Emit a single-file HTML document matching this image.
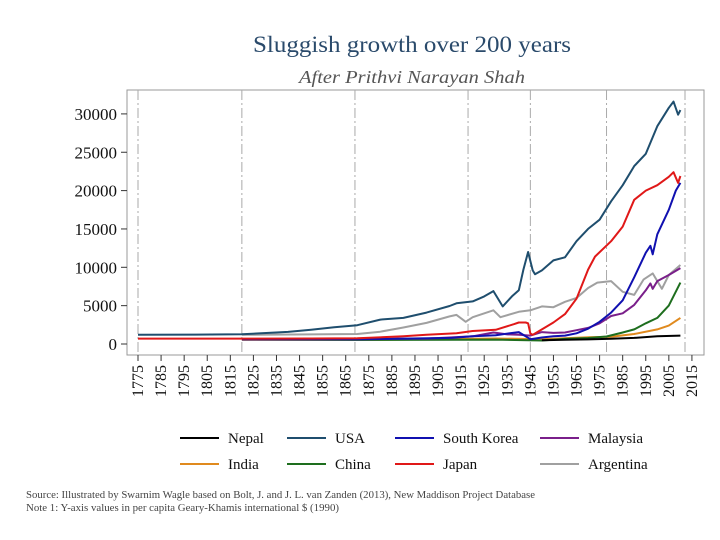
<!DOCTYPE html>
<html><head><meta charset="utf-8"><style>
body{margin:0;background:#fff;width:720px;height:540px;overflow:hidden;font-family:"Liberation Serif",serif}
svg{display:block}
</style></head><body>
<svg id="c" width="720" height="540">
<text x="412" y="52" text-anchor="middle" font-size="23" fill="#2a4a6b" font-family="Liberation Serif, serif" textLength="318" lengthAdjust="spacingAndGlyphs">Sluggish growth over 200 years</text>
<text x="412" y="83" text-anchor="middle" font-size="18" font-style="italic" fill="#555" textLength="226" lengthAdjust="spacingAndGlyphs">After Prithvi Narayan Shah</text>
<rect x="127" y="90" width="577" height="265" fill="none" stroke="#999" stroke-width="1"/>
<g id="grid"></g><g id="axes"></g><g id="series"></g><g id="legend"></g>
<text x="26" y="498" font-size="10.5" fill="#444" textLength="509" lengthAdjust="spacingAndGlyphs">Source: Illustrated by Swarnim Wagle based on Bolt, J. and J. L. van Zanden (2013), New Maddison Project Database</text>
<text x="26" y="511" font-size="10.5" fill="#444" textLength="313" lengthAdjust="spacingAndGlyphs">Note 1: Y-axis values in per capita Geary-Khamis international $ (1990)</text>
</svg>
<script>
const yTicks=[0,5000,10000,15000,20000,25000,30000];
const xTicks=[1775,1785,1795,1805,1815,1825,1835,1845,1855,1865,1875,1885,1895,1905,1915,1925,1935,1945,1955,1965,1975,1985,1995,2005,2015];
const eraLines=[1775,1820,1869,1918,1945,1978,2012];
const names=["Nepal","USA","South Korea","Malaysia","India","China","Japan","Argentina"];
const colors=["#000000","#1f4e6e","#1010b0","#7a1f8a","#e08a1e","#1e6e1e","#e01818","#a0a0a0"];
const nepalYears=[1950,1960,1970,1980,1990,2000,2010];
const nepalVals=[500,560,600,680,800,1000,1100];
const usaYears=[1775,1800,1820,1840,1850,1860,1870,1880,1890,1900,1910,1913,1920,1925,1929,1933,1937,1940,1942,1944,1946,1947,1950,1955,1960,1965,1970,1975,1980,1985,1990,1995,2000,2005,2007,2009,2010];
const usaVals=[1200,1220,1260,1580,1850,2180,2450,3180,3400,4100,4950,5300,5550,6200,6900,4900,6200,7000,9700,12000,9600,9100,9600,10900,11300,13400,15000,16200,18600,20700,23200,24800,28400,30800,31600,29900,30500];
const koreaYears=[1820,1870,1911,1920,1930,1940,1945,1950,1955,1960,1965,1970,1975,1980,1985,1990,1995,1997,1998,2000,2005,2008,2010];
const koreaVals=[600,600,800,1000,1150,1550,620,850,1000,1100,1400,2000,2900,4100,5700,8700,11900,12800,11700,14300,17500,20000,21000];
const malaysiaYears=[1820,1870,1900,1913,1920,1929,1935,1940,1945,1950,1955,1960,1965,1970,1975,1980,1985,1990,1995,1997,1998,2000,2005,2010];
const malaysiaVals=[600,660,700,900,1000,1500,1250,1200,1100,1550,1450,1500,1800,2100,2700,3650,4000,5100,7000,7900,7200,8200,9000,9900];
const indiaYears=[1820,1870,1900,1930,1950,1960,1970,1980,1990,2000,2005,2010];
const indiaVals=[530,530,600,720,620,750,870,940,1300,1900,2400,3400];
const chinaYears=[1820,1870,1913,1930,1950,1960,1970,1978,1985,1990,1995,2000,2005,2010];
const chinaVals=[600,530,550,570,450,660,780,980,1500,1900,2700,3400,5000,8000];
const japanYears=[1775,1820,1850,1870,1890,1900,1913,1920,1930,1938,1940,1943,1944,1945,1946,1950,1955,1960,1965,1970,1973,1980,1985,1990,1995,2000,2005,2007,2009,2010];
const japanVals=[700,700,720,740,1000,1200,1400,1700,1850,2600,2800,2800,2700,1350,1200,1900,2800,3900,5900,9700,11400,13400,15300,18800,20000,20700,21800,22400,21000,21900];
const argYears=[1820,1850,1870,1880,1890,1900,1910,1913,1917,1920,1929,1932,1940,1945,1950,1955,1960,1965,1970,1974,1980,1985,1990,1994,1998,2002,2005,2010];
const argVals=[1200,1250,1300,1600,2150,2750,3600,3800,2900,3500,4400,3500,4200,4400,4900,4800,5500,6000,7300,8000,8200,6800,6400,8400,9200,7200,9000,10300];
const allYears=[nepalYears,usaYears,koreaYears,malaysiaYears,indiaYears,chinaYears,japanYears,argYears];
const allVals=[nepalVals,usaVals,koreaVals,malaysiaVals,indiaVals,chinaVals,japanVals,argVals];
const drawOrder=[7,4,5,3,2,6,1,0];
const X=yr=>138+(yr-1775)*2.308;
const Y=v=>344-v*0.00767;
const NS="http://www.w3.org/2000/svg";
function mk(tag,attrs,parent){const e=document.createElementNS(NS,tag);for(const k in attrs)e.setAttribute(k,attrs[k]);parent.appendChild(e);return e;}
const grid=document.getElementById('grid'),axes=document.getElementById('axes'),series=document.getElementById('series'),legend=document.getElementById('legend');
eraLines.forEach(yr=>{const l=mk('line',{x1:X(yr),x2:X(yr),y1:90,y2:355,stroke:'#aaa','stroke-width':1,'stroke-dasharray':'10,3,2,3'},grid);

});
yTicks.forEach(v=>{const l=mk('line',{x1:121,x2:127,y1:Y(v),y2:Y(v),stroke:'#333'},axes);


const t=mk('text',{x:117,y:Y(v)+6,'text-anchor':'end','font-size':17,fill:'#111'},axes);t.textContent=v;

});
xTicks.forEach(yr=>{const x=X(yr);const l=mk('line',{x1:x,x2:x,y1:355,y2:361,stroke:'#333'},axes);


const t=mk('text',{x:0,y:0,'text-anchor':'end','font-size':16,fill:'#111',transform:`translate(${x+5},365) rotate(-90)`},axes);t.textContent=yr;

});
drawOrder.forEach(i=>{const ys=allYears[i],vs=allVals[i];const d=ys.map((yr,j)=>(j?'L':'M')+X(yr).toFixed(1)+','+Y(vs[j]).toFixed(1)).join('');
const p=mk('path',{d:d,fill:'none',stroke:colors[i],'stroke-width':2,'stroke-linejoin':'round'},series);

});
const lx=[180,287,395,540];
names.forEach((n,i)=>{const x=lx[i%4],y=i<4?438:464;
const g=mk('g',{},legend);


mk('line',{x1:x,x2:x+39,y1:y,y2:y,stroke:colors[i],'stroke-width':2},g);
const t=mk('text',{x:x+48,y:y+5,'font-size':15,fill:'#111'},g);t.textContent=n;});
</script>
</body></html>
